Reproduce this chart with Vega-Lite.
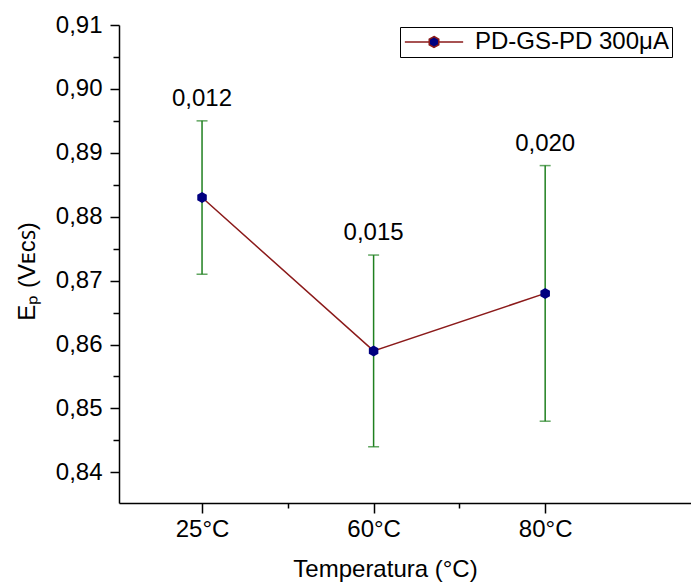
{
  "$schema": "https://vega.github.io/schema/vega-lite/v6.json",
  "width": 572,
  "height": 478,
  "autosize": {"type": "none"},
  "padding": {"left": 119, "top": 25, "right": 0, "bottom": 81},
  "config": {
    "view": {"stroke": null},
    "locale": {"number": {"decimal": ",", "thousands": ".", "grouping": [3], "currency": ["", ""]}},
    "font": "Liberation Sans",
    "axis": {
      "labelFont": "Liberation Sans", "titleFont": "Liberation Sans",
      "labelColor": "black", "titleColor": "black",
      "domainColor": "black", "tickColor": "black",
      "grid": false, "titleFontWeight": "normal",
      "domainWidth": 1.5, "tickWidth": 1.5,
      "labelFontSize": 24, "titleFontSize": 24
    }
  },
  "data": {"values": [
    {"pos": 1, "temp": "25°C", "ep": 0.883, "lower": 0.871, "upper": 0.895, "err": 0.012, "series": "PD-GS-PD 300μA"},
    {"pos": 2, "temp": "60°C", "ep": 0.859, "lower": 0.844, "upper": 0.874, "err": 0.015, "series": "PD-GS-PD 300μA"},
    {"pos": 3, "temp": "80°C", "ep": 0.868, "lower": 0.848, "upper": 0.888, "err": 0.020, "series": "PD-GS-PD 300μA"}
  ]},
  "layer": [
    {
      "mark": {"type": "rule", "color": "#1f801f", "strokeWidth": 1.5},
      "encoding": {
        "x": {"field": "pos", "type": "quantitative",
          "scale": {"domain": [0.516, 3.85], "nice": false, "zero": false},
          "axis": {"orient": "bottom", "values": [1, 2, 3],
            "labelExpr": "datum.value == 1 ? '25°C' : datum.value == 2 ? '60°C' : '80°C'",
            "tickSize": 10, "labelPadding": 4, "title": "Temperatura (°C)", "titlePadding": 16, "titleX": 266}},
        "y": {"field": "lower", "type": "quantitative",
          "scale": {"domain": [0.8352, 0.91], "nice": false, "zero": false},
          "axis": {"orient": "left", "values": [0.84, 0.85, 0.86, 0.87, 0.88, 0.89, 0.90, 0.91],
            "format": ".2f", "tickSize": 9, "labelPadding": 8, "title": "Eₚ (Vᴇᴄꜱ)", "titlePadding": 16, "titleY": 246}},
        "y2": {"field": "upper"}
      }
    },
    {
      "mark": {"type": "tick", "orient": "horizontal", "color": "#1f801f", "size": 11, "thickness": 1.5},
      "encoding": {
        "x": {"field": "pos", "type": "quantitative", "axis": null},
        "y": {"field": "upper", "type": "quantitative", "axis": null}
      }
    },
    {
      "mark": {"type": "tick", "orient": "horizontal", "color": "#1f801f", "size": 11, "thickness": 1.5},
      "encoding": {
        "x": {"field": "pos", "type": "quantitative", "axis": null},
        "y": {"field": "lower", "type": "quantitative", "axis": null}
      }
    },
    {
      "mark": {"type": "line", "strokeWidth": 1.5},
      "encoding": {
        "x": {"field": "pos", "type": "quantitative", "axis": null},
        "y": {"field": "ep", "type": "quantitative", "axis": null},
        "color": {"field": "series", "type": "nominal",
          "scale": {"range": ["#8B1A1A"]},
          "legend": {"orient": "none", "legendX": 281, "legendY": 2, "title": null,
            "strokeColor": "black", "padding": 3,
            "labelFont": "Liberation Sans", "labelFontSize": 24, "labelColor": "black", "labelLimit": 0,
            "symbolType": "M-5.3,0H-1M1,0H5.3M0,-1L0.866,-0.5L0.866,0.5L0,1L-0.866,0.5L-0.866,-0.5Z",
            "symbolSize": 121, "symbolOffset": 19, "labelOffset": 29, "symbolStrokeWidth": 1.5,
            "symbolFillColor": "#000080", "symbolStrokeColor": "#8B1A1A"}}
      }
    },
    {
      "mark": {"type": "point", "shape": "M0,-1L0.866,-0.5L0.866,0.5L0,1L-0.866,0.5L-0.866,-0.5Z", "filled": true, "color": "#000080", "size": 121, "opacity": 1},
      "encoding": {
        "x": {"field": "pos", "type": "quantitative",
          "axis": {"orient": "bottom", "values": [1.5, 2.5], "labels": false, "domain": false, "title": null, "tickSize": 5}},
        "y": {"field": "ep", "type": "quantitative",
          "axis": {"orient": "left", "values": [0.845, 0.855, 0.865, 0.875, 0.885, 0.895, 0.905], "labels": false, "domain": false, "title": null, "tickSize": 6}}
      }
    },
    {
      "mark": {"type": "text", "fontSize": 24, "dy": -15, "baseline": "alphabetic", "font": "Liberation Sans", "color": "black"},
      "encoding": {
        "x": {"field": "pos", "type": "quantitative", "axis": null},
        "y": {"field": "upper", "type": "quantitative", "axis": null},
        "text": {"field": "err", "type": "quantitative", "format": ".3f"}
      }
    }
  ],
  "resolve": {"axis": {"x": "independent", "y": "independent"}}
}
